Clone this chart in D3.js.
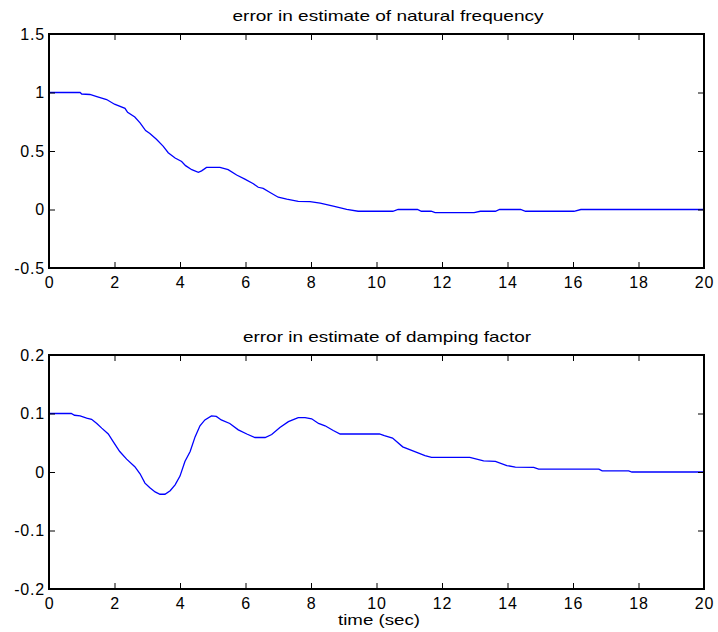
<!DOCTYPE html>
<html>
<head>
<meta charset="utf-8">
<script src="https://cdn.jsdelivr.net/npm/d3@7"></script>
<style>
  html, body { margin: 0; padding: 0; background: #fff; }
  svg { display: block; font-family: "Liberation Sans", Arial, sans-serif; }
</style>
</head>
<body>
<svg id="chart" width="718" height="632"></svg>
<script>
// ---- data ----
const titleTop = "error in estimate of natural frequency";
const titleBottom = "error in estimate of damping factor";
const xLabel = "time (sec)";

const xTicks = [0, 2, 4, 6, 8, 10, 12, 14, 16, 18, 20];
const yTicksTop = [-0.5, 0, 0.5, 1, 1.5];
const yTickLabelsTop = ["-0.5", "0", "0.5", "1", "1.5"];
const yTicksBottom = [-0.2, -0.1, 0, 0.1, 0.2];
const yTickLabelsBottom = ["-0.2", "-0.1", "0", "0.1", "0.2"];

const timeTop = [0, 0.95, 1.0, 1.25, 1.46, 1.76, 2.0, 2.32, 2.4, 2.62, 2.78, 2.95, 3.08, 3.28, 3.49, 3.64, 3.85, 4.05, 4.17, 4.36, 4.56, 4.66, 4.81, 5.22, 5.47, 5.73, 5.98, 6.24, 6.39, 6.54, 6.75, 7.0, 7.26, 7.61, 7.97, 8.28, 8.68, 9.09, 9.44, 10.5, 10.66, 11.25, 11.37, 11.67, 11.79, 12.98, 13.17, 13.63, 13.76, 14.4, 14.55, 16.03, 16.24, 20];
const errFreq = [1.0, 1.0, 0.987, 0.983, 0.965, 0.94, 0.9, 0.865, 0.83, 0.79, 0.74, 0.675, 0.65, 0.6, 0.54, 0.485, 0.44, 0.41, 0.375, 0.34, 0.318, 0.33, 0.36, 0.36, 0.34, 0.295, 0.26, 0.22, 0.19, 0.18, 0.145, 0.105, 0.088, 0.07, 0.068, 0.054, 0.028, 0.002, -0.015, -0.015, 0.0, 0.0, -0.015, -0.015, -0.026, -0.026, -0.015, -0.015, 0.0, 0.0, -0.015, -0.015, 0.0, 0.0];

const timeBottom = [0, 0.68, 0.78, 0.95, 1.15, 1.3, 1.46, 1.61, 1.81, 1.96, 2.16, 2.37, 2.62, 2.78, 2.93, 3.08, 3.24, 3.39, 3.54, 3.7, 3.85, 4.0, 4.15, 4.31, 4.46, 4.61, 4.76, 4.96, 5.11, 5.26, 5.52, 5.78, 6.04, 6.29, 6.6, 6.8, 7.05, 7.31, 7.61, 7.82, 8.02, 8.23, 8.43, 8.68, 8.89, 10.09, 10.24, 10.49, 10.8, 11.17, 11.48, 11.68, 12.85, 13.27, 13.63, 13.98, 14.24, 14.8, 14.95, 16.79, 16.89, 17.7, 17.8, 20];
const errDamp = [0.1, 0.1, 0.097, 0.096, 0.092, 0.09, 0.083, 0.075, 0.065, 0.052, 0.035, 0.022, 0.009, -0.003, -0.019, -0.027, -0.034, -0.038, -0.038, -0.032, -0.022, -0.007, 0.018, 0.035, 0.06, 0.079, 0.089, 0.096, 0.095, 0.089, 0.083, 0.072, 0.065, 0.059, 0.059, 0.064, 0.076, 0.086, 0.093, 0.093, 0.091, 0.083, 0.079, 0.071, 0.065, 0.065, 0.062, 0.058, 0.043, 0.035, 0.028, 0.025, 0.025, 0.019, 0.018, 0.011, 0.0085, 0.008, 0.005, 0.005, 0.002, 0.002, 0, 0];

// ---- drawing ----
const svg = d3.select("#chart");
const left = 49, right = 704;

function panel(cfg) {
  const x = d3.scaleLinear().domain([0, 20]).range([left, right]);
  const y = d3.scaleLinear().domain(cfg.yDomain).range([cfg.bottom, cfg.top]);
  const g = svg.append("g");

  const data = cfg.t.map((t, i) => [t, cfg.v[i]]);
  g.append("path")
    .datum(data)
    .attr("fill", "none")
    .attr("stroke", "#0000ff")
    .attr("stroke-width", 1.3)
    .attr("d", d3.line().x(d => x(d[0])).y(d => y(d[1])));

  const fmtY = v => cfg.yLabels[cfg.yTicks.indexOf(v)];

  const xb = g.append("g").attr("transform", `translate(0,${cfg.bottom})`)
    .call(d3.axisBottom(x).tickValues(xTicks).tickFormat(d3.format("d"))
      .tickSizeInner(-6).tickSizeOuter(0).tickPadding(9));
  const xt = g.append("g").attr("transform", `translate(0,${cfg.top})`)
    .call(d3.axisTop(x).tickValues(xTicks).tickFormat("")
      .tickSizeInner(-6).tickSizeOuter(0));
  const yl = g.append("g").attr("transform", `translate(${left},0)`)
    .call(d3.axisLeft(y).tickValues(cfg.yTicks).tickFormat(fmtY)
      .tickSizeInner(-6).tickSizeOuter(0).tickPadding(4));
  const yr = g.append("g").attr("transform", `translate(${right},0)`)
    .call(d3.axisRight(y).tickValues(cfg.yTicks).tickFormat("")
      .tickSizeInner(-6).tickSizeOuter(0));

  [xb, xt, yl, yr].forEach(s => {
    s.select(".domain").remove();
    s.selectAll(".tick line").attr("stroke", "#000").attr("stroke-width", 1);
    s.selectAll(".tick text")
      .attr("fill", "#000")
      .style("font-family", '"Liberation Sans", Arial, sans-serif')
      .style("font-size", "16px")
      .style("letter-spacing", "0.8px");
  });

  g.append("rect")
    .attr("x", left).attr("y", cfg.top)
    .attr("width", right - left).attr("height", cfg.bottom - cfg.top)
    .attr("fill", "none").attr("stroke", "#000").attr("stroke-width", 2);

  g.append("text")
    .attr("x", cfg.titleX).attr("y", cfg.top - 13)
    .attr("text-anchor", "middle")
    .attr("textLength", cfg.titleLen)
    .attr("lengthAdjust", "spacingAndGlyphs")
    .style("font-size", "15px")
    .text(cfg.title);
  return { x, y, g };
}

panel({ top: 34, bottom: 268, yDomain: [-0.5, 1.5], yTicks: yTicksTop, yLabels: yTickLabelsTop,
        t: timeTop, v: errFreq, title: titleTop, titleX: 388, titleLen: 311 });
const p2 = panel({ top: 355, bottom: 589, yDomain: [-0.2, 0.2], yTicks: yTicksBottom, yLabels: yTickLabelsBottom,
        t: timeBottom, v: errDamp, title: titleBottom, titleX: 387, titleLen: 288 });

p2.g.append("text")
  .attr("x", 379).attr("y", 625)
  .attr("text-anchor", "middle")
  .attr("textLength", 82)
  .attr("lengthAdjust", "spacingAndGlyphs")
  .style("font-size", "15px")
  .text(xLabel);
</script>
</body>
</html>
